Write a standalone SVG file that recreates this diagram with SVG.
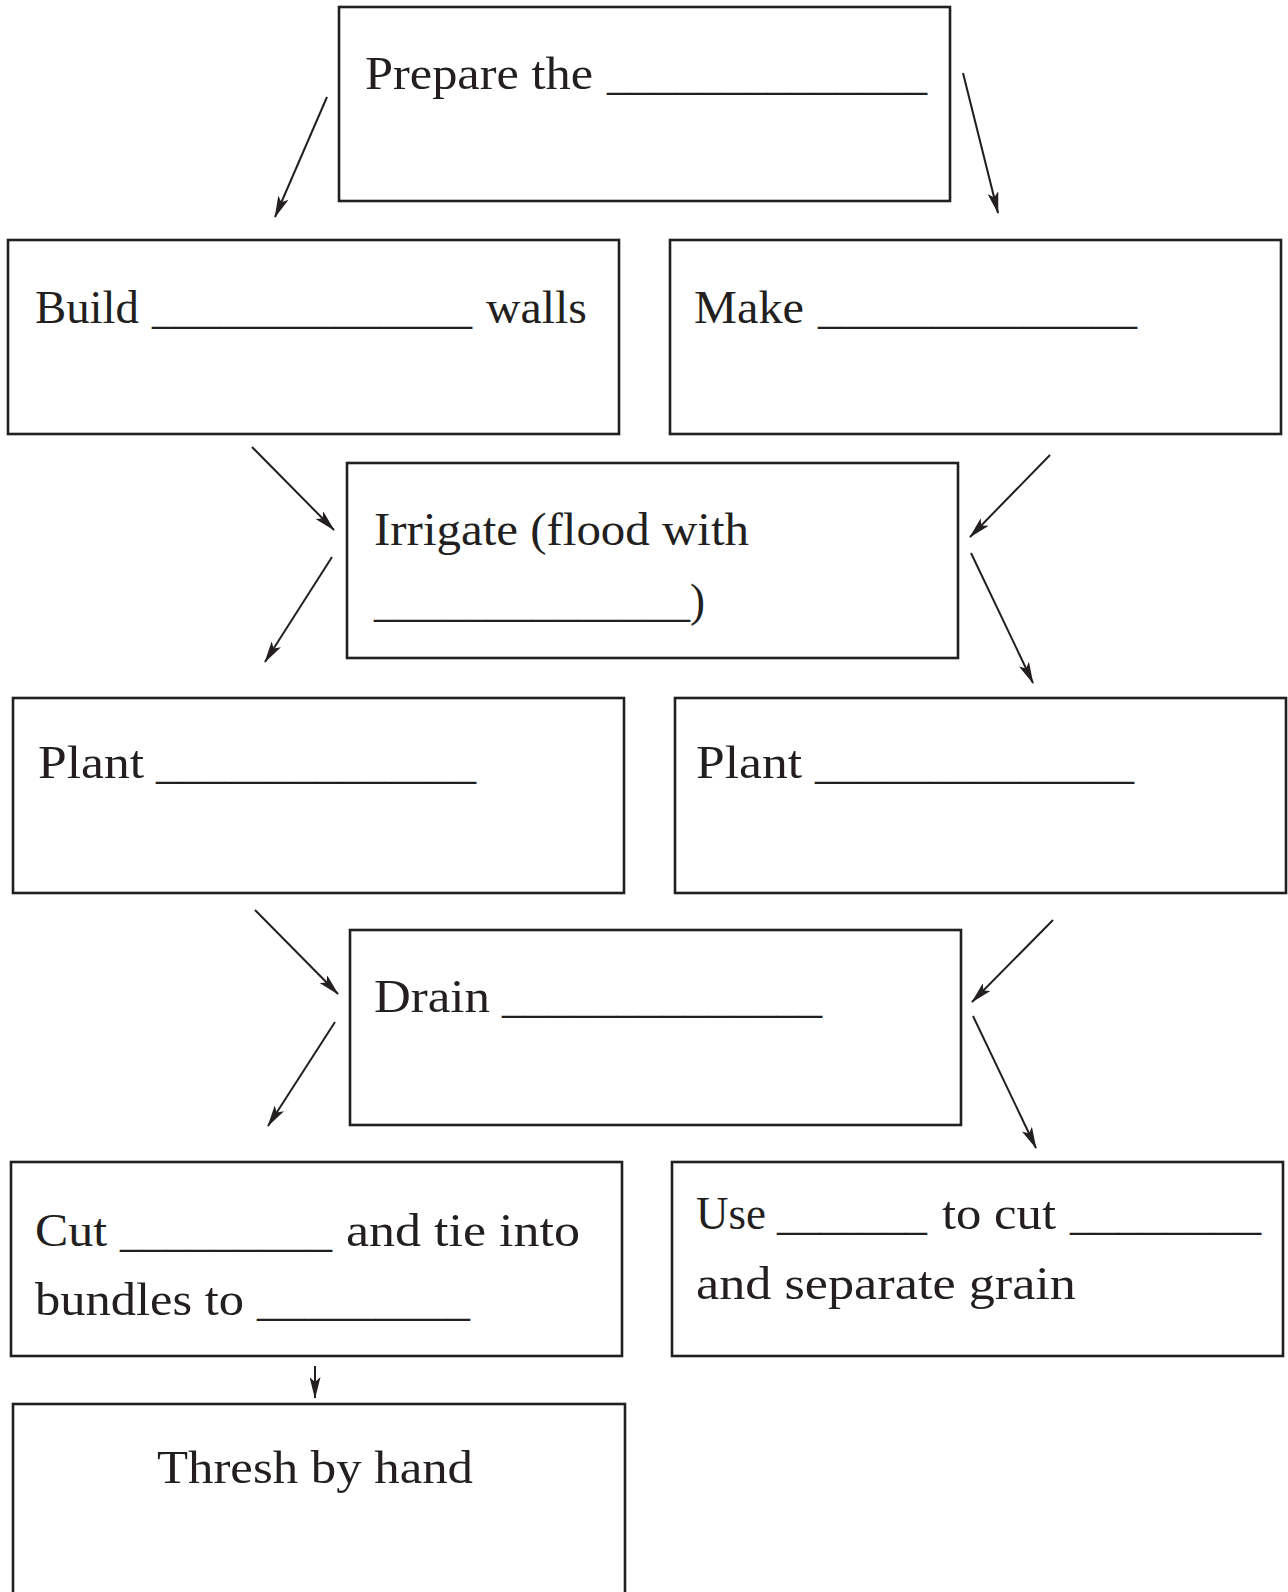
<svg xmlns="http://www.w3.org/2000/svg" width="1288" height="1592" viewBox="0 0 1288 1592">
<style>
.box{fill:#fff;stroke:#231f20;stroke-width:2.6}
.t{font-family:"Liberation Serif","Times New Roman",serif;font-size:46px;fill:#231f20}
.c{stroke:#231f20;stroke-width:2;fill:none;marker-end:url(#ah)}
</style>
<defs>
<marker id="ah" viewBox="0 0 22 11" refX="21" refY="5.5" markerWidth="22" markerHeight="11" markerUnits="userSpaceOnUse" orient="auto">
<path d="M0,0 L22,5.5 L0,11 L5,5.5 Z" fill="#231f20"/>
</marker>
</defs>
<rect width="1288" height="1592" fill="#fff"/>

<g id="n-prepare">
<rect class="box" x="339" y="7" width="611" height="194"/>
<text class="t" x="365" y="89" textLength="228" lengthAdjust="spacingAndGlyphs">Prepare the</text>
<text class="t" x="607" y="89" textLength="320" lengthAdjust="spacingAndGlyphs">______________</text>
</g>

<g id="n-build">
<rect class="box" x="8" y="240" width="611" height="194"/>
<text class="t" x="35" y="323" textLength="104" lengthAdjust="spacingAndGlyphs">Build</text>
<text class="t" x="152" y="323" textLength="320" lengthAdjust="spacingAndGlyphs">______________</text>
<text class="t" x="486" y="323" textLength="101" lengthAdjust="spacingAndGlyphs">walls</text>
</g>

<g id="n-make">
<rect class="box" x="670" y="240" width="611" height="194"/>
<text class="t" x="694" y="323" textLength="110" lengthAdjust="spacingAndGlyphs">Make</text>
<text class="t" x="818" y="323" textLength="319" lengthAdjust="spacingAndGlyphs">______________</text>
</g>

<g id="n-irrigate">
<rect class="box" x="347" y="463" width="611" height="195"/>
<text class="t" x="374" y="545" textLength="375" lengthAdjust="spacingAndGlyphs">Irrigate (flood with</text>
<text class="t" x="374" y="616" textLength="331" lengthAdjust="spacingAndGlyphs">______________)</text>
</g>

<g id="n-plant-left">
<rect class="box" x="13" y="698" width="611" height="195"/>
<text class="t" x="38" y="778" textLength="106" lengthAdjust="spacingAndGlyphs">Plant</text>
<text class="t" x="156" y="778" textLength="320" lengthAdjust="spacingAndGlyphs">______________</text>
</g>

<g id="n-plant-right">
<rect class="box" x="675" y="698" width="611" height="195"/>
<text class="t" x="696" y="778" textLength="106" lengthAdjust="spacingAndGlyphs">Plant</text>
<text class="t" x="815" y="778" textLength="319" lengthAdjust="spacingAndGlyphs">______________</text>
</g>

<g id="n-drain">
<rect class="box" x="350" y="930" width="611" height="195"/>
<text class="t" x="374" y="1012" textLength="116" lengthAdjust="spacingAndGlyphs">Drain</text>
<text class="t" x="502" y="1012" textLength="320" lengthAdjust="spacingAndGlyphs">______________</text>
</g>

<g id="n-cut">
<rect class="box" x="11" y="1162" width="611" height="194"/>
<text class="t" x="35" y="1246" textLength="72" lengthAdjust="spacingAndGlyphs">Cut</text>
<text class="t" x="120" y="1246" textLength="212" lengthAdjust="spacingAndGlyphs">_________</text>
<text class="t" x="346" y="1246" textLength="234" lengthAdjust="spacingAndGlyphs">and tie into</text>
<text class="t" x="35" y="1315" textLength="209" lengthAdjust="spacingAndGlyphs">bundles to</text>
<text class="t" x="257" y="1315" textLength="213" lengthAdjust="spacingAndGlyphs">_________</text>
</g>

<g id="n-use">
<rect class="box" x="672" y="1162" width="611" height="194"/>
<text class="t" x="696" y="1229" textLength="70" lengthAdjust="spacingAndGlyphs">Use</text>
<text class="t" x="777" y="1229" textLength="150" lengthAdjust="spacingAndGlyphs">_______</text>
<text class="t" x="942" y="1229" textLength="114" lengthAdjust="spacingAndGlyphs">to cut</text>
<text class="t" x="1070" y="1229" textLength="191" lengthAdjust="spacingAndGlyphs">________</text>
<text class="t" x="696" y="1299" textLength="380" lengthAdjust="spacingAndGlyphs">and separate grain</text>
</g>

<g id="n-thresh">
<rect class="box" x="13" y="1404" width="612" height="200"/>
<text class="t" x="157" y="1483" textLength="316" lengthAdjust="spacingAndGlyphs">Thresh by hand</text>
</g>

<g id="connectors">
<line class="c" x1="327" y1="97" x2="275" y2="217"/>
<line class="c" x1="963" y1="73" x2="998" y2="213"/>
<line class="c" x1="252" y1="447" x2="334" y2="530"/>
<line class="c" x1="1050" y1="455" x2="970" y2="537"/>
<line class="c" x1="332" y1="557" x2="265" y2="662"/>
<line class="c" x1="971" y1="553" x2="1033" y2="683"/>
<line class="c" x1="255" y1="910" x2="338" y2="994"/>
<line class="c" x1="1053" y1="920" x2="972" y2="1002"/>
<line class="c" x1="335" y1="1022" x2="268" y2="1126"/>
<line class="c" x1="973" y1="1016" x2="1036" y2="1148"/>
<line class="c" x1="315" y1="1366" x2="315" y2="1398"/>
</g>
</svg>
